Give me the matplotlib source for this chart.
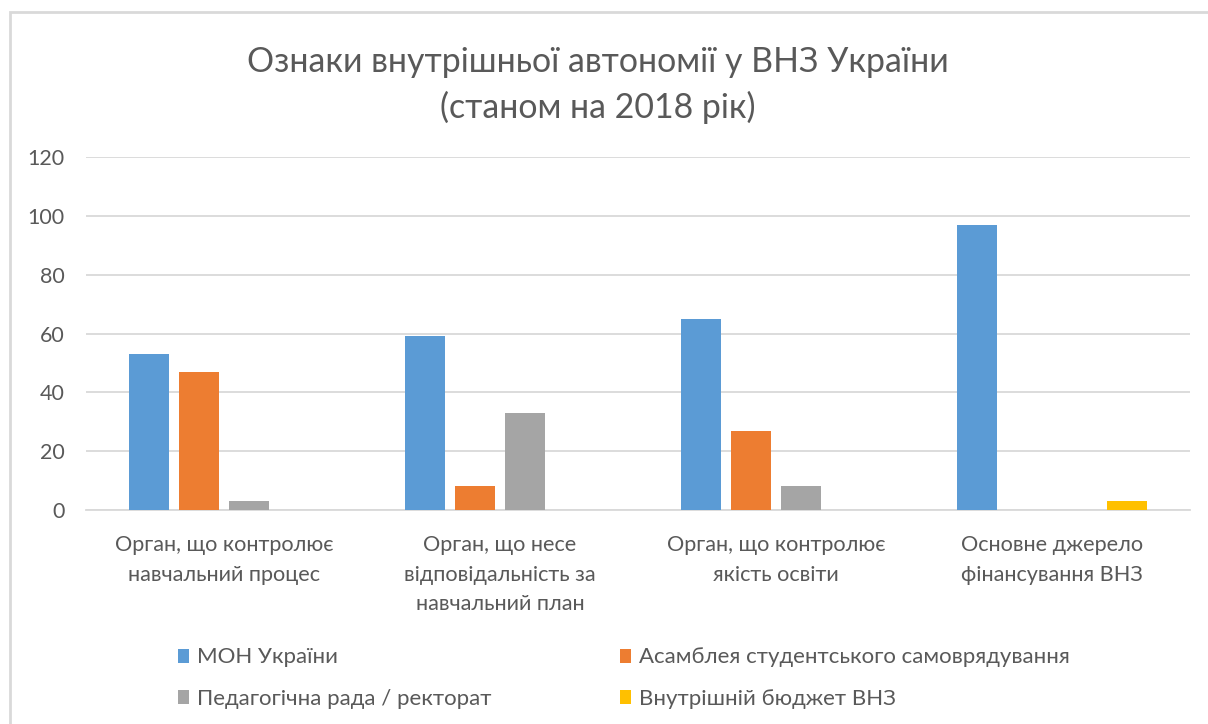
import matplotlib
matplotlib.use("Agg")
import matplotlib.pyplot as plt
from matplotlib.patches import Rectangle, Patch
import numpy as np

plt.rcParams['font.family'] = ['Lato', 'DejaVu Sans']

categories = [
    "Орган, що контролює\nнавчальний процес",
    "Орган, що несе\nвідповідальність за\nнавчальний план",
    "Орган, що контролює\nякість освіти",
    "Основне джерело\nфінансування ВНЗ",
]
series_names = [
    "МОН України",
    "Асамблея студентського самоврядування",
    "Педагогічна рада / ректорат",
    "Внутрішній бюджет ВНЗ",
]
mon = [53, 59, 65, 97]
asambleya = [47, 8, 27, 0]
pedrada = [3, 33, 8, 0]
budget = [0, 0, 0, 3]
yticks = [0, 20, 40, 60, 80, 100, 120]
title = "Ознаки внутрішньої автономії у ВНЗ України\n(станом на 2018 рік)"

colors = ["#5B9BD5", "#ED7D31", "#A5A5A5", "#FFC000"]
text_color = "#595959"

W, H = 1208, 724
fig = plt.figure(figsize=(W / 100, H / 100), dpi=100)
fig.patch.set_facecolor("white")

# chart border
fig.add_artist(Rectangle((10 / W, -0.05), 1.2, (1 - 12 / H) + 0.05,
                         transform=fig.transFigure, fill=False,
                         edgecolor="#D9D9D9", linewidth=2))

ax = fig.add_axes([86 / W, 1 - 510 / H, (1190 - 86) / W, (510 - 157) / H])

x = np.arange(len(categories))
bw = 39.5 / 276
step = 50 / 276
all_series = [mon, asambleya, pedrada, budget]
for i, (vals, c) in enumerate(zip(all_series, colors)):
    ax.bar(x + (i - 1.5) * step, vals, width=bw, color=c, zorder=3)

ax.set_xlim(-0.5, len(categories) - 0.5)
ax.set_ylim(0, 120)
ax.set_yticks(yticks)
ax.set_yticklabels([str(t) for t in yticks])
ax.yaxis.grid(True, color="#D9D9D9", linewidth=1.3, zorder=0)
ax.set_axisbelow(True)
for s in ["top", "right", "left"]:
    ax.spines[s].set_visible(False)
ax.spines["bottom"].set_color("#D9D9D9")
ax.spines["bottom"].set_linewidth(1.3)
ax.tick_params(axis="y", length=0, pad=15.5, labelsize=15.5, labelcolor=text_color)
ax.tick_params(axis="x", length=0, pad=18, labelsize=15.6, labelcolor=text_color)
ax.set_xticks(x)
ax.set_xticklabels(categories, linespacing=1.6)

fig.text(0.495, 1 - 85 / H, title, ha="center", va="center", fontsize=24.4,
         color=text_color, linespacing=1.45)

handles = [Patch(facecolor=c) for c in colors]
order = [0, 2, 1, 3]
leg = fig.legend([handles[i] for i in order], [series_names[i] for i in order],
                 ncol=2, loc="center left", bbox_to_anchor=(158 / W, 1 - 678 / H),
                 frameon=False, fontsize=16, labelcolor=text_color,
                 handlelength=0.5, handleheight=0.6, handletextpad=0.35,
                 columnspacing=5.8, labelspacing=0.95)

fig.savefig("out.png", dpi=100, facecolor="white")
